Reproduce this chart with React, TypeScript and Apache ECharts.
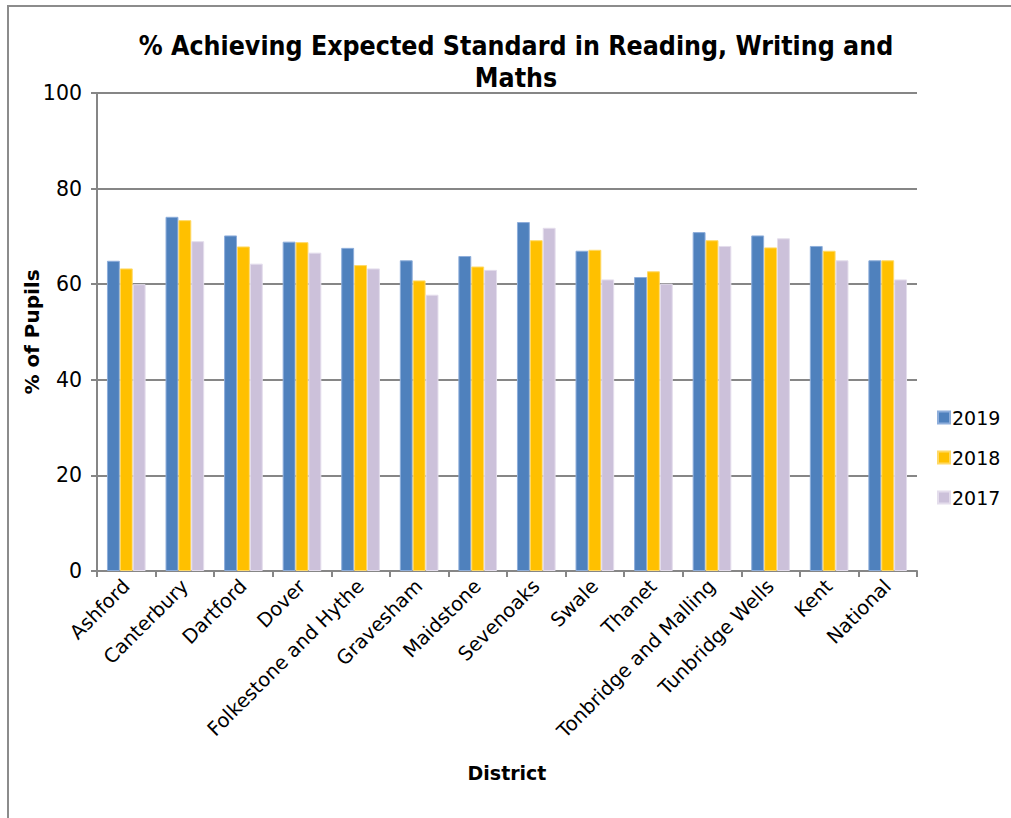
import React, { useEffect, useRef } from "react";
import * as echarts from "echarts";

const categories = [
  "Ashford", "Canterbury", "Dartford", "Dover", "Folkestone and Hythe", "Gravesham",
  "Maidstone", "Sevenoaks", "Swale", "Thanet", "Tonbridge and Malling", "Tunbridge Wells",
  "Kent", "National",
];
const values2019 = [64.9, 74.1, 70.2, 68.9, 67.6, 65.0, 65.9, 73.0, 67.0, 61.5, 70.9, 70.2, 68.0, 65.0];
const values2018 = [63.3, 73.4, 67.9, 68.8, 64.0, 60.8, 63.7, 69.2, 67.2, 62.7, 69.2, 67.7, 67.0, 65.0];
const values2017 = [60.0, 69.0, 64.3, 66.6, 63.3, 57.8, 63.0, 71.8, 61.0, 60.1, 68.0, 69.6, 65.0, 61.0];
const yTicks = [0, 20, 40, 60, 80, 100];

const FONT = "DejaVu Sans";
const GRID = "#868686";

export default function App() {
  const ref = useRef<HTMLDivElement>(null);
  useEffect(() => {
    if (!ref.current) return;
    const chart = echarts.init(ref.current, undefined, { renderer: "svg" });
    const mk = (name: string, data: number[], color: string, border: string) => ({
      name,
      type: "bar",
      data,
      barGap: "0%",
      barCategoryGap: "34%",
      itemStyle: { color, borderColor: border, borderWidth: 1 },
    });
    chart.setOption({
      animation: false,
      backgroundColor: "#ffffff",
      textStyle: { fontFamily: FONT },
      title: {
        text: "% Achieving Expected Standard in Reading, Writing and\nMaths",
        left: 511,
        textAlign: "center",
        top: 24,
        textStyle: {
          fontFamily: "DejaVu Sans Condensed",
          fontWeight: "bold",
          fontSize: 26.5,
          lineHeight: 32,
          color: "#000",
        },
      },
      legend: {
        orient: "vertical",
        left: 932,
        top: 403,
        itemWidth: 12,
        itemHeight: 12,
        itemGap: 21,
        icon: "rect",
        textStyle: { fontFamily: FONT, fontSize: 19, color: "#000", padding: [0, 0, 0, -3] },
        data: ["2019", "2018", "2017"],
      },
      grid: { left: 97, right: 94, top: 93, bottom: 247, containLabel: false },
      xAxis: {
        type: "category",
        data: categories,
        name: "District",
        nameLocation: "middle",
        nameGap: 192,
        nameMoveOverlap: false,
        nameTextStyle: { fontFamily: FONT, fontWeight: "bold", fontSize: 19, color: "#000" },
        axisLine: { lineStyle: { color: GRID, width: 2 } },
        axisTick: { show: true, length: 6, lineStyle: { color: GRID, width: 2 } },
        axisLabel: {
          rotate: 45,
          interval: 0,
          margin: 12,
          fontFamily: FONT,
          fontSize: 19.5,
          color: "#000",
        },
      },
      yAxis: {
        type: "value",
        min: 0,
        max: 100,
        interval: 20,
        name: "% of Pupils",
        nameLocation: "middle",
        nameGap: 55,
        nameMoveOverlap: false,
        nameTextStyle: { fontFamily: FONT, fontWeight: "bold", fontSize: 20, color: "#000" },
        axisLine: { show: true, lineStyle: { color: GRID, width: 2 } },
        axisTick: { show: true, length: 6, lineStyle: { color: GRID, width: 2 } },
        axisLabel: {
          margin: 15,
          fontFamily: FONT,
          fontSize: 20.5,
          color: "#000",
          formatter: (v: number) => (yTicks.includes(v) ? String(v) : ""),
        },
        splitLine: { show: true, lineStyle: { color: GRID, width: 2 } },
      },
      graphic: [
        {
          type: "rect",
          shape: { x: 8, y: 6, width: 1100, height: 900 },
          style: { fill: "none", stroke: "#8c8c8c", lineWidth: 2 },
          silent: true,
          z: -10,
        },
      ],
      series: [
        mk("2019", values2019, "#4F81BD", "#8EAEDB"),
        mk("2018", values2018, "#FFC000", "#FFD966"),
        mk("2017", values2017, "#CCC1DA", "#E4DDEC"),
      ],
    });
    return () => chart.dispose();
  }, []);
  return (
    <div
      ref={ref}
      style={{ position: "fixed", left: 0, top: 0, width: 1011, height: 818 }}
    />
  );
}
